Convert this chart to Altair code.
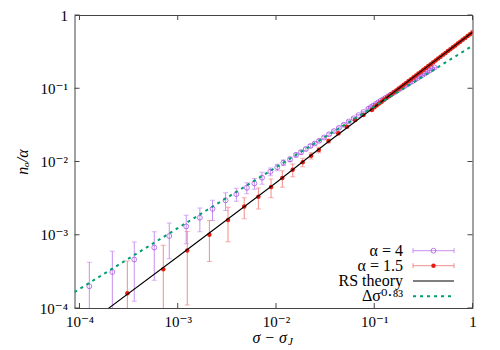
import json
import altair as alt
import pandas as pd

# ---------------- data ----------------
# alpha = 4 (open violet circles), y +/- err
a4_x = [1.26e-4, 2.16e-4, 3.61e-4, 5.77e-4, 8.20e-4, 1.22e-3, 1.68e-3, 2.26e-3,
        3.07e-3, 3.95e-3, 5.05e-3, 6.03e-3, 7.21e-3, 8.77e-3, 1.03e-2, 1.19e-2,
        1.39e-2, 1.60e-2, 1.80e-2, 2.01e-2, 2.24e-2, 2.48e-2, 2.75e-2,
        0.0309, 0.0347, 0.0389, 0.0437, 0.0490, 0.0550, 0.0617, 0.0692, 0.0776,
        0.0871,
        0.09226, 0.09772, 0.1035, 0.1096, 0.1161, 0.1230, 0.1303, 0.1380, 0.1462,
        0.1549, 0.1641, 0.1738, 0.1841, 0.1950, 0.2065, 0.2188, 0.2317, 0.2455,
        0.2600, 0.2754, 0.2917, 0.3090, 0.3273, 0.3467, 0.3673, 0.3890, 0.4121]
a4_y = [1.98e-4, 3.10e-4, 4.59e-4, 6.70e-4, 9.61e-4, 1.30e-3, 1.71e-3, 2.26e-3,
        2.95e-3, 3.58e-3, 4.38e-3, 5.03e-3, 6.01e-3, 7.26e-3, 8.34e-3, 9.64e-3,
        1.07e-2, 1.23e-2, 1.34e-2, 1.48e-2, 1.63e-2, 1.76e-2, 1.92e-2,
        0.02128, 0.02355, 0.02600, 0.02877, 0.03177, 0.03516, 0.03882, 0.04295,
        0.04742, 0.05248,
        0.05521, 0.05794, 0.06095, 0.06412, 0.06730, 0.07047, 0.07396, 0.07762,
        0.08147, 0.08531, 0.08954, 0.09397, 0.09863, 0.1033, 0.1084, 0.1138,
        0.1194, 0.1250, 0.1312, 0.1377, 0.1445, 0.1514, 0.1589, 0.1667, 0.1750,
        0.1832, 0.1923]
a4_err = [2.23e-4, 2.84e-4, 3.35e-4, 4.3e-4, 4.9e-4, 5.45e-4, 6.1e-4, 7.0e-4,
          8.0e-4, 7.2e-4, 7.5e-4, 8.5e-4, 1.1e-3, 8.7e-4, 8.4e-4, 8.5e-4,
          8.0e-4, 8.0e-4, 8.0e-4, 8.0e-4, 8.0e-4, 8.0e-4, 8.0e-4] + [9e-4] * 37

# alpha = 1.5 (filled red circles), y +/- err
a15_x = [3.07e-4, 7.13e-4, 1.25e-3, 2.10e-3, 3.25e-3, 4.75e-3, 6.62e-3, 8.91e-3,
         1.16e-2, 1.48e-2, 1.87e-2, 2.28e-2, 2.73e-2, 3.42e-2, 4.31e-2, 5.26e-2,
         6.38e-2, 7.76e-2, 9.46e-2,
         0.1000, 0.1059, 0.1122, 0.1189, 0.1259, 0.1334, 0.1413, 0.1496, 0.1585,
         0.1679, 0.1778, 0.1884, 0.1995, 0.2113, 0.2239, 0.2371, 0.2512, 0.2661,
         0.2818, 0.2985, 0.3162, 0.3350, 0.3548, 0.3758, 0.3981, 0.4217, 0.4467,
         0.4732, 0.5012, 0.5309, 0.5623, 0.5957, 0.6310, 0.6683, 0.7079, 0.7499,
         0.7943, 0.8414, 0.8913, 0.9441, 1.0]
a15_y = [1.585e-4, 3.37e-4, 6.10e-4, 1.0e-3, 1.59e-3, 2.43e-3, 3.30e-3, 4.49e-3,
         5.96e-3, 7.73e-3, 9.75e-3, 1.20e-2, 1.44e-2, 1.91e-2, 2.43e-2, 2.99e-2,
         3.69e-2, 4.32e-2, 5.05e-2,
         0.05495, 0.05828, 0.06183, 0.06561, 0.06957, 0.07382, 0.07831, 0.08303,
         0.08809, 0.09344, 0.09909, 0.1051, 0.1115, 0.1183, 0.1255, 0.1331,
         0.1412, 0.1498, 0.1588, 0.1685, 0.1787, 0.1896, 0.2011, 0.2133, 0.2262,
         0.2400, 0.2546, 0.2700, 0.2864, 0.3038, 0.3222, 0.3418, 0.3626, 0.3845,
         0.4078, 0.4326, 0.4589, 0.4868, 0.5163, 0.5476, 0.5808]
a15_err = [2.8e-4, 3.81e-4, 5.0e-4, 5.7e-4, 7.9e-4, 7.7e-4, 1.05e-3, 1.3e-3,
           1.5e-3, 1.55e-3, 1.3e-3, 1.2e-3, 1.2e-3, 1.2e-3, 1.2e-3, 1.2e-3,
           1.2e-3, 1.2e-3, 1.2e-3] + [1.2e-3] * 41

# RS theory curve
rs_x = [1.778e-4, 1e-3, 1e-2, 3.162e-2, 0.1, 0.3162, 1.0]
rs_y = [8.91e-5, 5.01e-4, 5.13e-3, 1.718e-2, 5.50e-2, 0.1799, 0.581]

# power law  Delta sigma ^ 0.83
pw_x = [8.9e-5, 1e-3, 1e-2, 1e-1, 1.0]
pw_y = [1.65e-4, 1.23e-3, 8.32e-3, 5.62e-2, 0.38]

tick_vals = [1e-4, 1e-3, 1e-2, 1e-1, 1.0]
tick_labels = ["10⁻⁴", "10⁻³", "10⁻²", "10⁻¹", "1"]
legend_labels = ["α = 4", "α = 1.5", "RS theory", "Δσ⁰·⁸³"]
x_title = ["σ − σ", "J"]
y_title = "nₒ/α"

# ---------------- styling ----------------
W, H = 398, 293
SERIF = "Liberation Serif, DejaVu Serif, serif"
VIOLET = "#a040e0"
VIOLET_BAR = "#c890f0"
RED = "#e51e10"
RED_BAR = "#f08c8c"
GREEN = "#009e73"
FRAME = "#444444"
FLOOR = 1e-7

xs = alt.Scale(type="log", domain=[8.9e-5, 1.0], nice=False)
ys = alt.Scale(type="log", domain=[1e-4, 1.0], nice=False)

label_expr = ("[" + ",".join(json.dumps(t, ensure_ascii=False).replace('"', "'") for t in tick_labels)
              + "][round(log(datum.value)/LN10)+4]")

xaxis = alt.Axis(values=tick_vals, labelExpr=label_expr, tickSize=0, domain=False,
                 grid=False, labelPadding=6, labelFont=SERIF, labelFontSize=15,
                 labelColor="black", title=None, labelFlush=False)
yaxis = alt.Axis(values=tick_vals, labelExpr=label_expr, tickSize=0, domain=False,
                 grid=False, labelPadding=7, labelFont=SERIF, labelFontSize=15,
                 labelColor="black", title=y_title, titleFont=SERIF,
                 titleFontSize=16, titleFontStyle="italic", titleFontWeight="normal",
                 titleColor="black", titleX=-52, titleY=H / 2, titleAngle=270,
                 titleAlign="center", titleBaseline="middle", labelFlush=False)


def X(f):
    return alt.X(f, type="quantitative", scale=xs, axis=xaxis)


def Y(f):
    return alt.Y(f, type="quantitative", scale=ys, axis=yaxis)


def series_df(xv, yv, ev):
    return pd.DataFrame({
        "x": xv, "y": yv,
        "lo": [max(a - e, FLOOR) for a, e in zip(yv, ev)],
        "hi": [a + e for a, e in zip(yv, ev)],
    })


d4 = series_df(a4_x, a4_y, a4_err)
d15 = series_df(a15_x, a15_y, a15_err)


def series_layers(df, bar_color, point_mark):
    base = alt.Chart(df)
    bars = base.mark_rule(color=bar_color, strokeWidth=1, clip=True).encode(
        x=X("x"), y=Y("lo"), y2="hi")
    cap_lo = base.mark_tick(color=bar_color, orient="horizontal", size=5,
                            thickness=1, clip=True).encode(x=X("x"), y=Y("lo"))
    cap_hi = base.mark_tick(color=bar_color, orient="horizontal", size=5,
                            thickness=1, clip=True).encode(x=X("x"), y=Y("hi"))
    pts = point_mark(base).encode(x=X("x"), y=Y("y"))
    return [bars, cap_lo, cap_hi, pts]


violet_layers = series_layers(
    d4, VIOLET_BAR,
    lambda b: b.mark_point(shape="circle", filled=False, color=VIOLET, size=24,
                           strokeWidth=1, clip=True))
red_layers = series_layers(
    d15, RED_BAR,
    lambda b: b.mark_point(shape="circle", filled=True, color=RED, size=20,
                           opacity=1, clip=True))

rs_line = alt.Chart(pd.DataFrame({"x": rs_x, "y": rs_y})).mark_line(
    color="black", strokeWidth=1.1, clip=True).encode(x=X("x"), y=Y("y"))
pw_line = alt.Chart(pd.DataFrame({"x": pw_x, "y": pw_y})).mark_line(
    color=GREEN, strokeWidth=2, strokeDash=[3, 4], clip=True).encode(x=X("x"), y=Y("y"))

# inward ticks on all four sides
tdf = pd.DataFrame({"v": tick_vals})
TL = 5
ticks = [
    alt.Chart(tdf).mark_rule(color=FRAME).encode(x=X("v"), y=alt.value(H), y2=alt.value(H - TL)),
    alt.Chart(tdf).mark_rule(color=FRAME).encode(x=X("v"), y=alt.value(0), y2=alt.value(TL)),
    alt.Chart(tdf).mark_rule(color=FRAME).encode(y=Y("v"), x=alt.value(0), x2=alt.value(TL)),
    alt.Chart(tdf).mark_rule(color=FRAME).encode(y=Y("v"), x=alt.value(W), x2=alt.value(W - TL)),
]

# ---------------- legend (text on the left, sample on its right) ----------------
ONE = pd.DataFrame({"k": [0]})
LX_T, LX1, LX2 = 328.5, 338.5, 379.5
LXM = (LX1 + LX2) / 2
ROWS = [235.7, 250.7, 266.0, 281.3]


def txt(t, x, y, size=16, align="right", style="normal"):
    return alt.Chart(pd.DataFrame({"t": [t]})).mark_text(
        align=align, baseline="middle", font=SERIF, fontSize=size,
        fontStyle=style, color="black").encode(text="t:N", x=alt.value(x), y=alt.value(y))


def hrule(y, color, width=1.0, dash=None):
    kw = {"strokeDash": dash} if dash else {}
    return alt.Chart(ONE).mark_rule(color=color, strokeWidth=width, **kw).encode(
        x=alt.value(LX1), x2=alt.value(LX2), y=alt.value(y))


def vcap(x, y, color):
    return alt.Chart(ONE).mark_rule(color=color, strokeWidth=1).encode(
        x=alt.value(x), y=alt.value(y - 2.5), y2=alt.value(y + 2.5))


legend = []
for i, lab in enumerate(legend_labels):
    legend.append(txt(lab, LX_T, ROWS[i]))
legend += [
    hrule(ROWS[0], VIOLET_BAR), vcap(LX1, ROWS[0], VIOLET_BAR), vcap(LX2, ROWS[0], VIOLET_BAR),
    alt.Chart(ONE).mark_point(shape="circle", filled=False, color=VIOLET, size=24,
                              strokeWidth=1).encode(x=alt.value(LXM), y=alt.value(ROWS[0])),
    hrule(ROWS[1], RED_BAR), vcap(LX1, ROWS[1], RED_BAR), vcap(LX2, ROWS[1], RED_BAR),
    alt.Chart(ONE).mark_point(shape="circle", filled=True, color=RED, size=20,
                              opacity=1).encode(x=alt.value(LXM), y=alt.value(ROWS[1])),
    hrule(ROWS[2], "black", 1.1),
    hrule(ROWS[3], GREEN, 2, [3, 4]),
]

# x axis title with subscript
titles = [
    txt(x_title[0], 212.5, 323, size=16, align="right", style="italic"),
    txt(x_title[1], 213.5, 327, size=11, align="left", style="italic"),
]

chart = alt.layer(
    *violet_layers, *red_layers, rs_line, pw_line, *ticks, *legend, *titles
).properties(
    width=W, height=H,
    autosize=alt.AutoSizeParams(type="none"),
    padding={"left": 66.5, "top": 7, "right": 14, "bottom": 40},
).configure_view(stroke=FRAME, strokeWidth=1)

chart.save("out.html", embed_options={"renderer": "svg", "actions": False})
